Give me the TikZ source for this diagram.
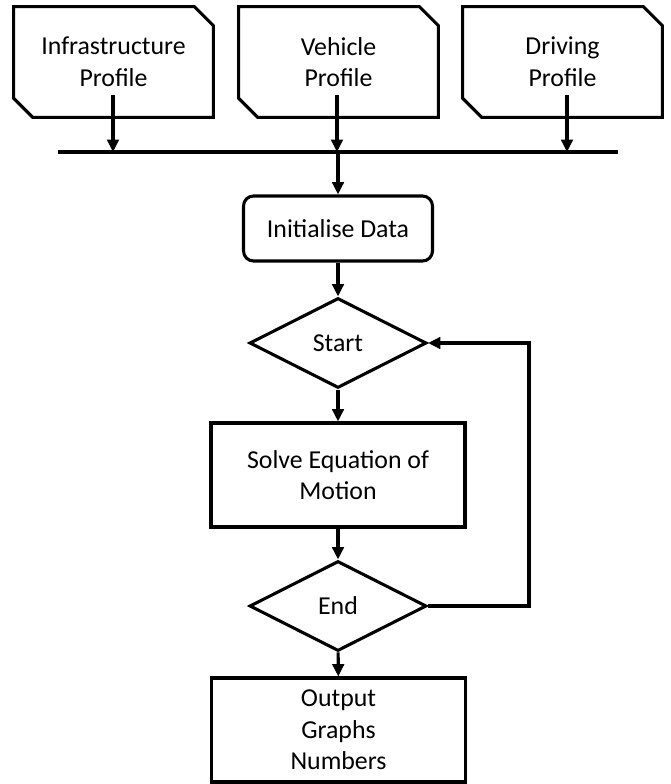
\documentclass[tikz,border=0pt]{standalone}
\usepackage{fontspec}
\setmainfont{Carlito}
\usetikzlibrary{positioning,shapes.geometric,arrows.meta,calc}
\tikzstyle{chart} = [x = 0.02cm, y = -0.02cm]
\tikzstyle{flowLine} = [color=black, line width = 1.75pt]
\tikzstyle{flowArrow} = [flowLine, -{Triangle[width = 6.5pt, length = 7pt]}]
\tikzstyle{flowText} = [align = center, font = \fontsize{14.7}{18}\selectfont, inner sep = 0pt]
\tikzstyle{cardStyle} = [flowText, minimum width = 3.98cm, minimum height = 2.2cm]
\tikzstyle{roundBox} = [flowText, flowLine, draw, rounded corners = .2cm, minimum width = 3.78cm, minimum height = 1.3cm]
\tikzstyle{plainBox} = [flowText, flowLine, draw, minimum width = 5.08cm, minimum height = 2.08cm]
\tikzstyle{decisionStyle} = [flowText, flowLine, draw, diamond, minimum width = 3.54cm, minimum height = 1.8cm]
\newcommand{\cut}{19}
\newcommand{\profileCard}[4]{
  \node [cardStyle] (#1) at (#2, 62) {#3};
  \draw [flowLine] (#1.north west) -- ($(#1.north east) + (-\cut, 0)$) -- ($(#1.north east) + (0, \cut)$)
    -- (#1.south east) -- ($(#1.south west) + (\cut, 0)$) -- ($(#1.south west) + (0, -\cut)$) -- cycle;
  \coordinate (#1Out) at (#4, 95);
  \coordinate (#1Bus) at (#4, 152);
  \draw [flowArrow] (#1Out) -- (#1Bus);
}

\begin{document}
\begin{tikzpicture}[chart]
      \useasboundingbox (0, 0) rectangle (671, 784);

      \profileCard{infra}{113.5}{Infrastructure\\Profile}{113}
      \profileCard{vehicle}{338.5}{Vehicle\\Profile}{337}
      \profileCard{driving}{562.5}{Driving\\Profile}{567}

      \coordinate (busLeft) at (58, 152);
      \coordinate (busRight) at (618, 152);
      \coordinate (busMain) at (338, 152);
      \draw [flowLine] (busLeft) -- (busRight);

      \node [roundBox] (init) at (338, 228.5) {Initialise Data};
      \node [decisionStyle] (start) at (338, 343) {Start};
      \node [plainBox] (solve) at (338, 475) {Solve Equation of\\Motion};
      \node [decisionStyle] (finish) at (338, 606) {End};
      \node [plainBox] (output) at (338.5, 730) {Output\\Graphs\\Numbers};

      \draw [flowArrow] (busMain) -- (init.north);
      \draw [flowArrow] (init) -- (start);
      \draw [flowArrow] (start) -- (solve);
      \draw [flowArrow] (solve) -- (finish);
      \draw [flowArrow] (finish) -- (output);

      \coordinate (loopX) at (529, 0);
      \draw [flowArrow] (finish.east) -- (finish.east -| loopX) |- (start.east);
    \end{tikzpicture}
\end{document}
